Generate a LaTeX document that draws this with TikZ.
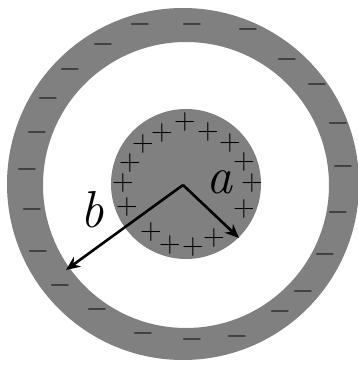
\documentclass[tikz,border=0pt]{standalone}
\usepackage{fontspec}
\usetikzlibrary{arrows.meta}
\definecolor{shell}{RGB}{128,128,128}
\tikzset{
  pl/.style={inner sep=0pt,font=\fontsize{30}{30}\selectfont},
  mn/.style={inner sep=0pt,font=\fontsize{28}{28}\selectfont},
  lbl/.style={inner sep=0pt,font=\fontsize{52}{52}\selectfont\itshape},
  rad/.style={line width=2.6pt,-{Stealth[length=14pt,width=12pt]}},
}
\begin{document}
\begin{tikzpicture}[x=1pt,y=-1pt]
\useasboundingbox (0,0) rectangle (358,367);
\fill[shell,even odd rule] (183,184) circle (176) (186,185) circle (143);
\fill[shell] (186,184) circle (75);
\coordinate (O) at (183,185);
\coordinate (A) at (239,238);
\coordinate (B) at (66,270);
\draw[rad] (O) -- (A);
\draw[rad] (O) -- (B);
\node[lbl] (la) at (219,182) {a};
\node[lbl] (lb) at (92,210) {b};
\foreach \x/\y [count=\i] in {185/122,162/133,208/132,143/144,230/143,130/163,244/162,123/183,252/183,127/207,244/209,151/232,170/245,193/247,214/238}
  \node[pl] (p\i) at (\x,\y) {+};
\foreach \x/\y [count=\i] in {140/28,192/28,248/33,103/48,287/63,70/73,317/88,48/102,338/127,37/136,343/170,27/173,338/216,32/213,325/258,38/255,303/295,60/289,280/315,97/313,237/340,143/337,192/343}
  \node[mn] (m\i) at (\x,\y) {−};
\end{tikzpicture}
\end{document}
